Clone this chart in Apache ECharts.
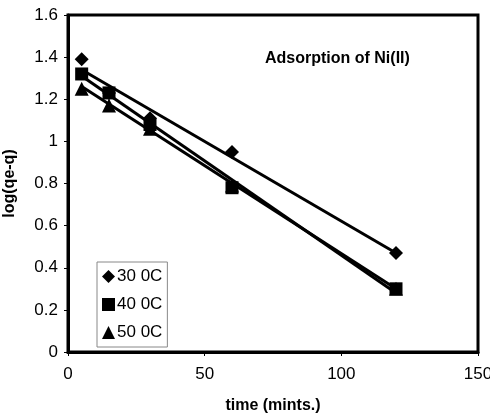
<!DOCTYPE html>
<html><head><meta charset="utf-8">
<script src="https://cdn.jsdelivr.net/npm/echarts@6/dist/echarts.min.js"></script>
<style>html,body{margin:0;padding:0;background:#fff;overflow:hidden}#c{width:490px;height:418px}</style>
</head><body><div id="c"></div>
<script>
var times = [5, 15, 30, 60, 120];
var y30 = [1.39, 1.23, 1.11, 0.95, 0.47];
var y40 = [1.32, 1.23, 1.08, 0.78, 0.30];
var y50 = [1.25, 1.17, 1.06, 0.79, 0.30];
var trendX = [5, 120];
var trend30 = [1.34, 0.47];
var trend40 = [1.31, 0.28];
var trend50 = [1.26, 0.30];
var names = ['30 0C', '40 0C', '50 0C'];

function pts(xs, ys){ return xs.map(function(x,i){ return [x, ys[i]]; }); }
var font = 'Liberation Sans, Arial, sans-serif';
var chart = echarts.init(document.getElementById('c'));
function sc(name, ys, sym, size){
  return {type:'scatter', name:name, data:pts(times, ys), symbol:sym, symbolSize:size,
    itemStyle:{color:'#000', opacity:1}, z:5};
}
function tl(ys){
  return {type:'line', data:pts(trendX, ys), showSymbol:false, symbol:'none',
    lineStyle:{color:'#000', width:3}, z:3, silent:true};
}
var axLine = {show:true, onZero:false, lineStyle:{color:'#000', width:3}};
chart.setOption({
  animation:false,
  backgroundColor:'#fff',
  grid:{left:68, right:12, top:15, bottom:66, show:false, containLabel:false, outerBoundsMode:'none'},
  title:{text:'Adsorption of Ni(II)', left:260, top:46, textStyle:{fontFamily:font, fontSize:16, fontWeight:'bold', color:'#000'}},
  legend:{orient:'vertical', left:97, top:262, data:names.map(function(n,i){return {name:n, icon:['diamond','rect','triangle'][i]};}),
    itemWidth:13, itemHeight:13, itemGap:11, padding:[6,5,6,5], borderColor:'#888', borderWidth:1,
    textStyle:{fontFamily:font, fontSize:17, color:'#000', padding:[0,0,0,-3]}},
  xAxis:{type:'value', min:0, max:150, interval:50, name:'time (mints.)', nameLocation:'middle', nameGap:46,
    nameTextStyle:{fontFamily:font, fontSize:16, fontWeight:'bold', color:'#000'},
    axisLine:axLine, axisTick:{show:true, length:4, lineStyle:{color:'#000'}},
    axisLabel:{fontFamily:font, fontSize:17, color:'#000', margin:14}, splitLine:{show:false}},
  yAxis:{type:'value', min:0, max:1.6, interval:0.2, name:'log(qe-q)', nameLocation:'middle', nameGap:50, nameRotate:90,
    nameTextStyle:{fontFamily:font, fontSize:16, fontWeight:'bold', color:'#000'},
    axisLine:axLine, axisTick:{show:true, length:4, lineStyle:{color:'#000'}},
    axisLabel:{fontFamily:font, fontSize:17, color:'#000', margin:10}, splitLine:{show:false}},
  series:[tl(trend30), tl(trend40), tl(trend50),
    sc(names[0], y30, 'diamond', 14), sc(names[1], y40, 'rect', 13), sc(names[2], y50, 'triangle', 14)]
});
var p0 = chart.convertToPixel({gridIndex:0}, [0, 0]);
var p1 = chart.convertToPixel({gridIndex:0}, [150, 1.6]);
chart.setOption({graphic:[{type:'rect', shape:{x:p0[0], y:p1[1], width:p1[0]-p0[0], height:p0[1]-p1[1]},
  style:{fill:null, stroke:'#000', lineWidth:3}, z:10, silent:true}]});
</script></body></html>
